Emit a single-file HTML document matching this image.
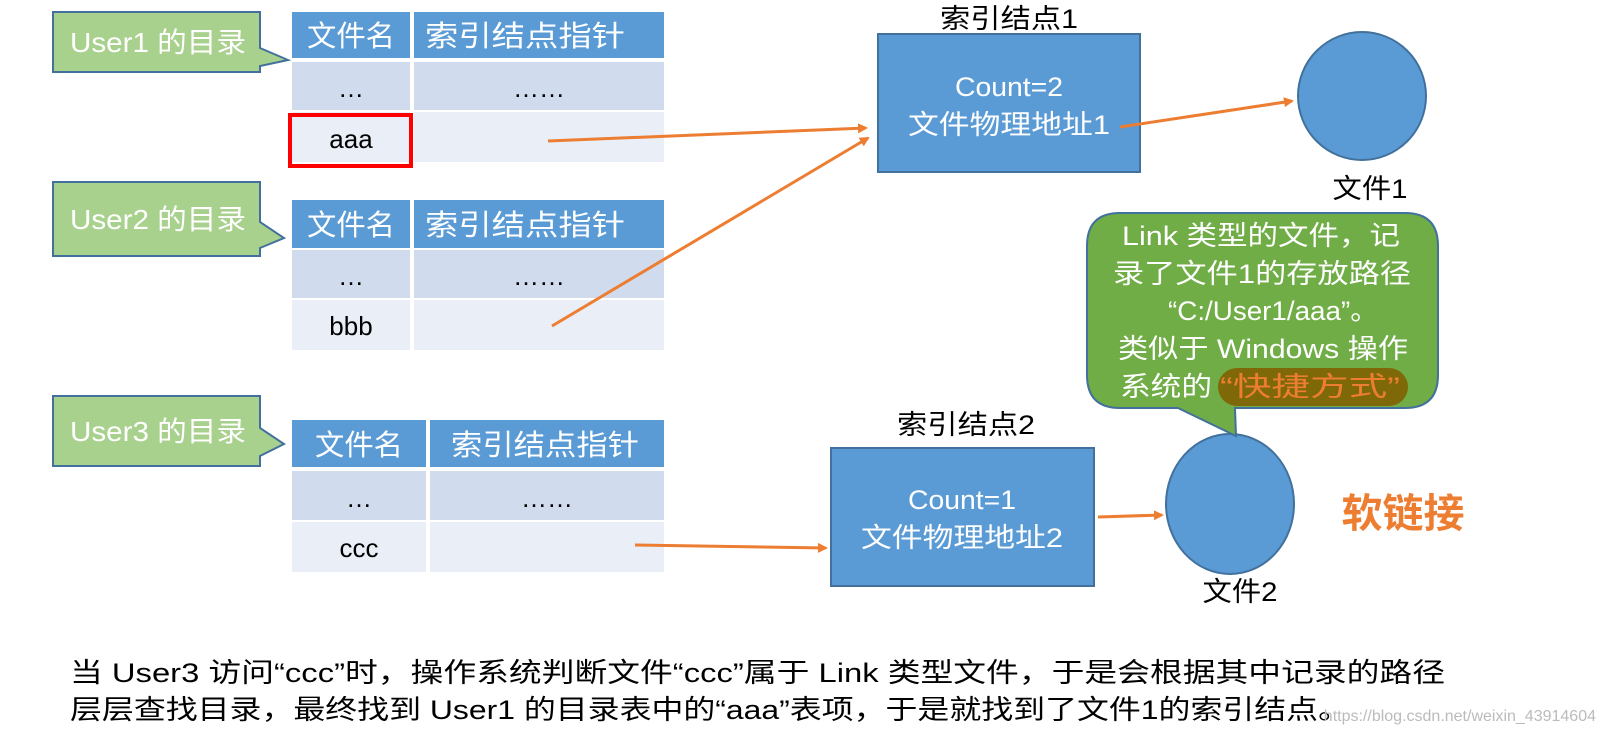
<!DOCTYPE html>
<html><head><meta charset="utf-8"><style>
html,body{margin:0;padding:0;background:#fff;}
svg{display:block;}
text{font-family:"Liberation Sans","Noto Sans CJK SC",sans-serif;}
</style></head><body>
<svg width="1604" height="751" viewBox="0 0 1604 751" xmlns="http://www.w3.org/2000/svg">
<defs><marker id="ah" markerWidth="10" markerHeight="10" refX="8" refY="5" orient="auto" markerUnits="userSpaceOnUse"><path d="M0,0 L10,5 L0,10 z" fill="#ED7D31"/></marker></defs>

<g fill="#A9D18E" stroke="#41719C" stroke-width="2">
<path d="M53,12 H260 V48 L288,60 L260,66 V72 H53 Z"/>
<path d="M53,182 H260 V222 L284,238 L260,248 V256 H53 Z"/>
<path d="M53,396 H260 V428 L284,444 L260,456 V466 H53 Z"/>
</g>
<g fill="#fff" font-size="28">
<text x="70" y="52" textLength="176" lengthAdjust="spacingAndGlyphs">User1 的目录</text>
<text x="70" y="229" textLength="176" lengthAdjust="spacingAndGlyphs">User2 的目录</text>
<text x="70" y="441" textLength="176" lengthAdjust="spacingAndGlyphs">User3 的目录</text>
</g>

<g>
<rect x="292" y="12" width="118" height="46" fill="#5B9BD5"/><rect x="414" y="12" width="250" height="46" fill="#5B9BD5"/>
<rect x="292" y="62" width="118" height="48" fill="#D0DCEE"/><rect x="414" y="62" width="250" height="48" fill="#D0DCEE"/>
<rect x="292" y="112" width="118" height="50" fill="#E9EEF7"/><rect x="414" y="112" width="250" height="50" fill="#E9EEF7"/>
<rect x="290" y="115" width="121" height="51" fill="none" stroke="#f00" stroke-width="4"/>
<rect x="292" y="200" width="118" height="48" fill="#5B9BD5"/><rect x="414" y="200" width="250" height="48" fill="#5B9BD5"/>
<rect x="292" y="250" width="118" height="48" fill="#D0DCEE"/><rect x="414" y="250" width="250" height="48" fill="#D0DCEE"/>
<rect x="292" y="300" width="118" height="50" fill="#E9EEF7"/><rect x="414" y="300" width="250" height="50" fill="#E9EEF7"/>
<rect x="292" y="420" width="134" height="47" fill="#5B9BD5"/><rect x="430" y="420" width="234" height="47" fill="#5B9BD5"/>
<rect x="292" y="471" width="134" height="49" fill="#D0DCEE"/><rect x="430" y="471" width="234" height="49" fill="#D0DCEE"/>
<rect x="292" y="522" width="134" height="50" fill="#E9EEF7"/><rect x="430" y="522" width="234" height="50" fill="#E9EEF7"/>
</g>
<g font-size="29" text-anchor="middle">
<g fill="#fff">
<text x="351" y="46" textLength="88" lengthAdjust="spacingAndGlyphs">文件名</text><text x="525" y="46" textLength="200" lengthAdjust="spacingAndGlyphs">索引结点指针</text>
<text x="351" y="235" textLength="88" lengthAdjust="spacingAndGlyphs">文件名</text><text x="525" y="235" textLength="200" lengthAdjust="spacingAndGlyphs">索引结点指针</text>
<text x="359" y="455" textLength="88" lengthAdjust="spacingAndGlyphs">文件名</text><text x="545" y="455" textLength="188" lengthAdjust="spacingAndGlyphs">索引结点指针</text>
</g>
<g fill="#000" font-size="26">
<text x="351" y="97">…</text><text x="539" y="97">……</text>
<text x="351" y="148">aaa</text>
<text x="351" y="285">…</text><text x="539" y="285">……</text>
<text x="351" y="335">bbb</text>
<text x="359" y="507">…</text><text x="547" y="507">……</text>
<text x="359" y="557">ccc</text>
</g>
</g>

<rect x="878" y="34" width="262" height="138" fill="#5B9BD5" stroke="#41719C" stroke-width="2"/>
<rect x="831" y="448" width="263" height="138" fill="#5B9BD5" stroke="#41719C" stroke-width="2"/>
<g font-size="27" text-anchor="middle">
<text x="1009" y="28" fill="#000" textLength="138" lengthAdjust="spacingAndGlyphs">索引结点1</text>
<text x="1009" y="96" fill="#fff" textLength="108" lengthAdjust="spacingAndGlyphs">Count=2</text>
<text x="1009" y="134" fill="#fff" textLength="202" lengthAdjust="spacingAndGlyphs">文件物理地址1</text>
<text x="966" y="434" fill="#000" textLength="138" lengthAdjust="spacingAndGlyphs">索引结点2</text>
<text x="962" y="509" fill="#fff" textLength="108" lengthAdjust="spacingAndGlyphs">Count=1</text>
<text x="962" y="547" fill="#fff" textLength="202" lengthAdjust="spacingAndGlyphs">文件物理地址2</text>
<text x="1370" y="198" fill="#000" textLength="75" lengthAdjust="spacingAndGlyphs">文件1</text>
<text x="1240" y="601" fill="#000" textLength="75" lengthAdjust="spacingAndGlyphs">文件2</text>
</g>
<ellipse cx="1362" cy="96" rx="64" ry="64" fill="#5B9BD5" stroke="#41719C" stroke-width="2"/>
<ellipse cx="1230" cy="504" rx="64" ry="70" fill="#5B9BD5" stroke="#41719C" stroke-width="2"/>

<path d="M1120,213 H1405 Q1438,213 1438,246 V375 Q1438,408 1405,408 H1235 L1236,436 L1178,408 H1120 Q1087,408 1087,375 V246 Q1087,213 1120,213 Z" fill="#70AD47" stroke="#41719C" stroke-width="2"/>
<rect x="1218" y="368" width="190" height="38" rx="19" fill="#7F6000" opacity="0.9"/>
<g font-size="27" fill="#fff">
<text x="1122" y="245" textLength="278" lengthAdjust="spacingAndGlyphs">Link 类型的文件，记</text>
<text x="1113" y="283" textLength="298" lengthAdjust="spacingAndGlyphs">录了文件1的存放路径</text>
<text x="1168" y="320" textLength="210" lengthAdjust="spacingAndGlyphs">“C:/User1/aaa”。</text>
<text x="1118" y="358" textLength="290" lengthAdjust="spacingAndGlyphs">类似于 Windows 操作</text>
<text x="1120" y="396" textLength="92" lengthAdjust="spacingAndGlyphs">系统的</text>
<text x="1220" y="396" fill="#ED7D31" textLength="180" lengthAdjust="spacingAndGlyphs">“快捷方式”</text>
</g>
<text x="1403" y="527" font-size="40" font-weight="bold" fill="#ED7D31" text-anchor="middle" textLength="123" lengthAdjust="spacingAndGlyphs">软链接</text>

<g stroke="#ED7D31" stroke-width="3" marker-end="url(#ah)">
<line x1="548" y1="141" x2="866" y2="128"/>
<line x1="552" y1="326" x2="868" y2="138"/>
<line x1="1120" y1="127" x2="1292" y2="101"/>
<line x1="635" y1="545" x2="826" y2="548"/>
<line x1="1098" y1="517" x2="1162" y2="515"/>
</g>

<g font-size="27" fill="#000">
<text x="70" y="682" textLength="1375" lengthAdjust="spacingAndGlyphs">当 User3 访问“ccc”时，操作系统判断文件“ccc”属于 Link 类型文件，于是会根据其中记录的路径</text>
<text x="70" y="719" textLength="1280" lengthAdjust="spacingAndGlyphs">层层查找目录，最终找到 User1 的目录表中的“aaa”表项，于是就找到了文件1的索引结点。</text>
</g>
<text x="1596" y="721" font-size="16" fill="#bbb" text-anchor="end">https://blog.csdn.net/weixin_43914604</text>
</svg>
</body></html>
